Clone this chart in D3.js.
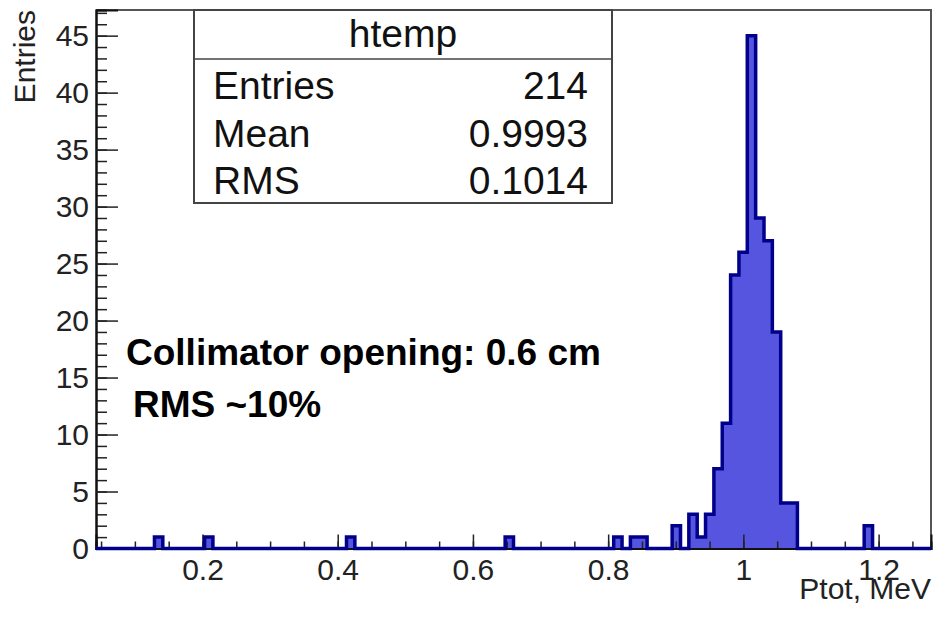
<!DOCTYPE html>
<html>
<head>
<meta charset="utf-8">
<script src="https://cdn.jsdelivr.net/npm/d3@7"></script>
<style>
  body { margin: 0; background: #fff; }
  svg { display: block; font-family: "Liberation Sans", Arial, Helvetica, sans-serif; }
</style>
</head>
<body>
<script>
// histogram binning
var xMin = 0.0425;
var xMax = 1.2775;
var nBins = 100;
var yMax = 47.25;

// non-empty bins: bin number (0-based) and content
var binNumber = [7, 13, 30, 49, 62, 64, 65, 69, 71, 72, 73, 74, 75, 76, 77, 78, 79, 80, 81, 82, 83, 92];
var binCount  = [1, 1, 1, 1, 1, 1, 1, 2, 3, 1, 3, 7, 11, 24, 26, 45, 29, 27, 19, 4, 4, 2];

var statLabels = ["Entries", "Mean", "RMS"];
var statValues = ["214", "0.9993", "0.1014"];

var yTicks = [0, 5, 10, 15, 20, 25, 30, 35, 40, 45];
var xTicks = [0.2, 0.4, 0.6, 0.8, 1.0, 1.2];

var width = 933;
var height = 617;
// plot frame in pixels ("top" is taken by window.top)
var fLeft = 96, fRight = 931, fTop = 10, fBottom = 548.5;

var svg = d3.select("body").append("svg")
            .attr("width", width)
            .attr("height", height);

var x = d3.scaleLinear().domain([xMin, xMax]).range([fLeft, fRight]);
var y = d3.scaleLinear().domain([0, yMax]).range([fBottom, fTop]);

// full list of bin contents
var binW = (xMax - xMin) / nBins;
var bins = d3.range(nBins).map(function(i) {
    return { lo: xMin + i * binW, hi: xMin + (i + 1) * binW, n: 0 };
});
binNumber.forEach(function(b, i) { bins[b].n = binCount[i]; });

// step outline
var pts = [[xMin, 0]];
bins.forEach(function(b) {
    pts.push([b.lo, b.n]);
    pts.push([b.hi, b.n]);
});
pts.push([xMax, 0]);

var line = d3.line()
             .x(function(d) { return x(d[0]); })
             .y(function(d) { return y(d[1]); });

svg.append("path")
   .attr("d", line(pts))
   .attr("fill", "#5555e0")
   .attr("stroke", "none");

// frame (top / right)
svg.append("path")
   .attr("d", "M" + fLeft + "," + fTop + "H" + fRight + "V" + fBottom)
   .attr("fill", "none")
   .attr("stroke", "#555")
   .attr("stroke-width", 2);

// y axis, ticks inside
var yMinor = d3.axisLeft(y).tickValues(d3.range(0, 48, 1)).tickSize(-11).tickFormat("");
var yMajor = d3.axisLeft(y).tickValues(yTicks).tickSize(-22).tickPadding(7).tickFormat(d3.format("d"));
var gy1 = svg.append("g").attr("transform", "translate(" + fLeft + ",0)").call(yMinor);
var gy2 = svg.append("g").attr("transform", "translate(" + fLeft + ",0)").call(yMajor);

// x axis, ticks inside
var xMinor = d3.axisBottom(x).tickValues(d3.range(0.05, 1.27, 0.05)).tickSize(-7).tickFormat("");
var xMajor = d3.axisBottom(x).tickValues(xTicks).tickSize(-14).tickPadding(10).tickFormat(d3.format("~g"));
var gx1 = svg.append("g").attr("transform", "translate(0," + fBottom + ")").call(xMinor);
var gx2 = svg.append("g").attr("transform", "translate(0," + fBottom + ")").call(xMajor);

[gy1, gy2, gx1, gx2].forEach(function(g) {
    g.attr("font-size", 30).attr("font-family", "'Liberation Sans', Arial, sans-serif");
    g.select(".domain").attr("stroke", "#111").attr("stroke-width", 2);
    g.selectAll(".tick line").attr("stroke", "#222").attr("stroke-width", 1.5);
    g.selectAll("text").attr("fill", "#222");
});

// histogram outline on top
svg.append("path")
   .attr("d", line(pts))
   .attr("fill", "none")
   .attr("stroke", "#00008b")
   .attr("stroke-width", 3.5);

// axis titles
svg.append("text")
   .attr("transform", "translate(35," + fTop + ") rotate(-90)")
   .attr("text-anchor", "end")
   .attr("font-size", 30)
   .attr("fill", "#222")
   .text("Entries");

svg.append("text")
   .attr("x", fRight)
   .attr("y", 599)
   .attr("text-anchor", "end")
   .attr("font-size", 30)
   .attr("fill", "#222")
   .text("Ptot, MeV");

// stats box
var box = svg.append("g");
box.append("rect")
   .attr("x", 194).attr("y", fTop)
   .attr("width", 418).attr("height", 193)
   .attr("fill", "#fff")
   .attr("stroke", "#444")
   .attr("stroke-width", 2);
box.append("line")
   .attr("x1", 194).attr("x2", 612)
   .attr("y1", 59).attr("y2", 59)
   .attr("stroke", "#444")
   .attr("stroke-width", 1.5);
box.append("text")
   .attr("x", 403).attr("y", 47)
   .attr("text-anchor", "middle")
   .attr("font-size", 39)
   .attr("fill", "#111")
   .text("htemp");
statLabels.forEach(function(s, i) {
    box.append("text")
       .attr("x", 213).attr("y", 99 + i * 47.5)
       .attr("font-size", 39)
       .attr("fill", "#111")
       .text(s);
    box.append("text")
       .attr("x", 588).attr("y", 99 + i * 47.5)
       .attr("text-anchor", "end")
       .attr("font-size", 39)
       .attr("fill", "#111")
       .text(statValues[i]);
});

// annotations
svg.append("text")
   .attr("x", 126).attr("y", 365)
   .attr("font-size", 37)
   .attr("font-weight", "bold")
   .text("Collimator opening: 0.6 cm");
svg.append("text")
   .attr("x", 133).attr("y", 417)
   .attr("font-size", 37)
   .attr("font-weight", "bold")
   .text("RMS ~10%");
</script>
</body>
</html>
